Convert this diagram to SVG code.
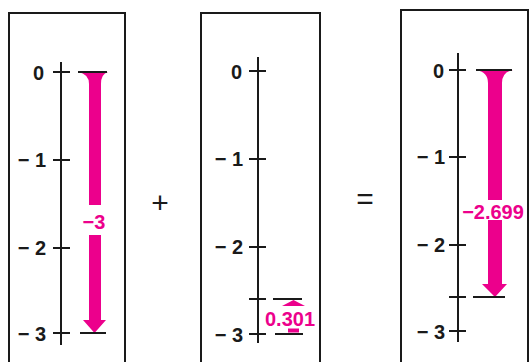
<svg xmlns="http://www.w3.org/2000/svg" width="529" height="362" viewBox="0 0 529 362">
<style>
.box{fill:none;stroke:#1a1a1a;stroke-width:2}
.ax{stroke:#1a1a1a;stroke-width:2;fill:none}
.lbl{font-family:"Liberation Sans",Arial,sans-serif;font-weight:bold;font-size:20px;fill:#1a1a1a;text-anchor:end}
.mg{fill:#ec008c}
.mt{font-family:"Liberation Sans",Arial,sans-serif;font-weight:bold;font-size:20px;fill:#ec008c;text-anchor:middle}
.op{font-family:"Liberation Sans",Arial,sans-serif;font-size:30px;fill:#1a1a1a;text-anchor:middle}
</style>
<rect width="529" height="362" fill="#fff"/>
<g id="panel1">
<path class="box" d="M9,362 V13 H125 V362"/>
<path class="ax" d="M61,62 V345 M53,72 H70 M53,160 H70 M53,248 H70 M53,333 H70"/>
<text class="lbl" x="44" y="80">0</text>
<text class="lbl" x="46" y="167" xml:space="preserve">− 1</text>
<text class="lbl" x="46" y="255" xml:space="preserve">− 2</text>
<text class="lbl" x="46" y="341" xml:space="preserve">− 3</text>
<path class="mg" d="M78,72 H108 Q101,74 101,84 V205 H89 V84 Q89,74 78,72 Z"/>
<path class="mg" d="M89,235 H101 V320 H106 L94.5,333 L83,320 H89 Z"/>
<path class="ax" d="M78,72 H107 M80,333 H106"/>
<text class="mt" x="94" y="229">−3</text>
</g>
<g id="plus"><text class="op" x="160" y="213">+</text></g>
<g id="panel2">
<path class="box" d="M201,362 V13 H320 V362"/>
<path class="ax" d="M258,57 V343 M249,71 H266 M249,159 H266 M249,247 H266 M249,299 H266 M249,334 H266"/>
<text class="lbl" x="242" y="79">0</text>
<text class="lbl" x="243" y="166" xml:space="preserve">− 1</text>
<text class="lbl" x="243" y="254" xml:space="preserve">− 2</text>
<text class="lbl" x="243" y="342" xml:space="preserve">− 3</text>
<path class="ax" d="M273,299 H302 M275,334 H303"/>
<path class="mg" d="M293.5,300 L305,306 H282 Z"/>
<rect class="mg" x="288" y="328.5" width="11" height="4"/>
<text class="mt" x="290" y="326">0.301</text>
</g>
<g id="equals"><text class="op" x="365" y="209">=</text></g>
<g id="panel3">
<path class="box" d="M401,362 V10 H528 V362"/>
<path class="ax" d="M458,53 V342 M449,70 H466 M449,157 H466 M449,245 H466 M449,297 H466 M449,331 H466"/>
<text class="lbl" x="444" y="78">0</text>
<text class="lbl" x="445" y="164" xml:space="preserve">− 1</text>
<text class="lbl" x="445" y="252" xml:space="preserve">− 2</text>
<text class="lbl" x="445" y="339" xml:space="preserve">− 3</text>
<path class="mg" d="M476,70 H513 Q502,72 502,83 V200 H488 V83 Q488,72 476,70 Z"/>
<path class="mg" d="M488,220 H502 V284 H507 L495,297 L482,284 H488 Z"/>
<path class="ax" d="M476,70 H512 M473,297 H505"/>
<text class="mt" x="493" y="219">−2.699</text>
</g>
</svg>
